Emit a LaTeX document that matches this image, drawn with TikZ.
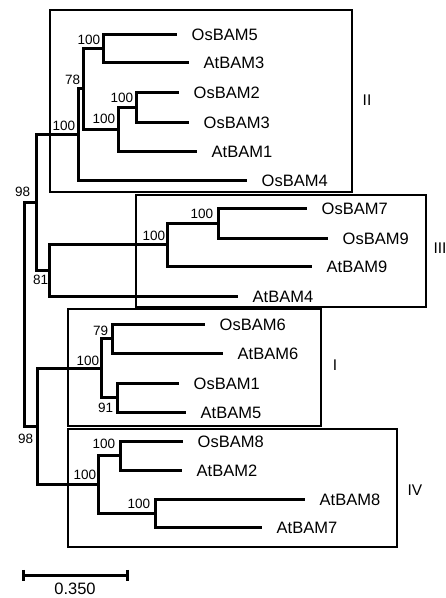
\documentclass[tikz,border=0pt]{standalone}
\usepackage{fontspec}
\setmainfont{Liberation Sans}
\begin{document}
\begin{tikzpicture}[x=1pt,y=-1pt,
  br/.style={draw, line width=3pt, line join=miter},
  cladebox/.style={draw, line width=1.2pt},
  taxon/.style={anchor=west, inner sep=0pt, font=\fontsize{16.5}{18}\selectfont},
  bsa/.style={anchor=south east, inner sep=0pt, font=\fontsize{13.5}{15}\selectfont},
  bsb/.style={anchor=north east, inner sep=0pt, font=\fontsize{13.5}{15}\selectfont},
  grp/.style={inner sep=0pt, font=\fontsize{15.5}{17}\selectfont},
  sclabel/.style={inner sep=0pt, font=\fontsize{16.5}{18}\selectfont}]
\useasboundingbox (0,0) rectangle (446,598);

% clade boxes
\draw[cladebox] (50,10) rectangle (352,192);
\draw[cladebox] (136,195) rectangle (426,307);
\draw[cladebox] (68,309) rectangle (321,426);
\draw[cladebox] (68,429) rectangle (397,547);
\node[grp] (gII) at (367,100) {II};
\node[grp] (gIII) at (440,248) {III};
\node[grp] (gI) at (335,365) {I};
\node[grp] (gIV) at (415,490) {IV};

% tips
\coordinate (tOsBAM5) at (177,34.4);
\coordinate (tAtBAM3) at (189,62.4);
\coordinate (tOsBAM2) at (179,92.4);
\coordinate (tOsBAM3) at (189,122.4);
\coordinate (tAtBAM1) at (197,151.4);
\coordinate (tOsBAM4) at (247,180.4);
\coordinate (tOsBAM7) at (307,208.4);
\coordinate (tOsBAM9) at (328,238.4);
\coordinate (tAtBAM9) at (312,266.4);
\coordinate (tAtBAM4) at (238,296.4);
\coordinate (tOsBAM6) at (205,324.4);
\coordinate (tAtBAM6) at (223,353.4);
\coordinate (tOsBAM1) at (179,383.4);
\coordinate (tAtBAM5) at (186,412.4);
\coordinate (tOsBAM8) at (183,441.4);
\coordinate (tAtBAM2) at (182,470.4);
\coordinate (tAtBAM8) at (305,499.4);
\coordinate (tAtBAM7) at (262,527.4);

% internal nodes
\coordinate (A) at (103.4,48.4);
\coordinate (B) at (136.4,107.4);
\coordinate (C) at (118.4,129.4);
\coordinate (D) at (83.4,88.9);
\coordinate (E) at (78.4,134.65);
\coordinate (F) at (218.4,223.4);
\coordinate (G) at (167.4,244.9);
\coordinate (H) at (49.4,270.65);
\coordinate (K) at (36.4,202.65);
\coordinate (L) at (112.4,338.9);
\coordinate (M) at (117.4,397.9);
\coordinate (N) at (101.4,368.4);
\coordinate (P) at (120.4,455.9);
\coordinate (Q) at (155.4,513.4);
\coordinate (R) at (98.4,484.65);
\coordinate (S) at (37.4,426.4);
\coordinate (root) at (24.4,314.5);

% taxon labels
\foreach \t in {OsBAM5,AtBAM3,OsBAM2,OsBAM3,AtBAM1,OsBAM4,OsBAM7,OsBAM9,AtBAM9,AtBAM4,OsBAM6,AtBAM6,OsBAM1,AtBAM5,OsBAM8,AtBAM2,AtBAM8,AtBAM7}
  \node[taxon] (\t) at ([xshift=14.5pt]t\t) {\t};

% branches
\draw[br] (A) |- (tOsBAM5); \draw[br] (A) |- (tAtBAM3);
\draw[br] (B) |- (tOsBAM2); \draw[br] (B) |- (tOsBAM3);
\draw[br] (C) |- (B); \draw[br] (C) |- (tAtBAM1);
\draw[br] (D) |- (A); \draw[br] (D) |- (C);
\draw[br] (E) |- (D); \draw[br] (E) |- (tOsBAM4);
\draw[br] (F) |- (tOsBAM7); \draw[br] (F) |- (tOsBAM9);
\draw[br] (G) |- (F); \draw[br] (G) |- (tAtBAM9);
\draw[br] (H) |- (G); \draw[br] (H) |- (tAtBAM4);
\draw[br] (K) |- (E); \draw[br] (K) |- (H);
\draw[br] (L) |- (tOsBAM6); \draw[br] (L) |- (tAtBAM6);
\draw[br] (M) |- (tOsBAM1); \draw[br] (M) |- (tAtBAM5);
\draw[br] (N) |- (L); \draw[br] (N) |- (M);
\draw[br] (P) |- (tOsBAM8); \draw[br] (P) |- (tAtBAM2);
\draw[br] (Q) |- (tAtBAM8); \draw[br] (Q) |- (tAtBAM7);
\draw[br] (R) |- (P); \draw[br] (R) |- (Q);
\draw[br] (S) |- (N); \draw[br] (S) |- (R);
\draw[br] (root) |- (K); \draw[br] (root) |- (S);

% bootstrap values
\node[bsa] (bA) at ([shift={(-3,-3.5)}]A) {100};
\node[bsa] (bD) at ([shift={(-3,-4.5)}]D) {78};
\node[bsa] (bB) at ([shift={(-3,-5)}]B) {100};
\node[bsa] (bC) at ([shift={(-3,-6)}]C) {100};
\node[bsa] (bE) at ([shift={(-3,-4)}]E) {100};
\node[bsa] (bK) at ([shift={(-6,-5.5)}]K) {98};
\node[bsa] (bG) at ([shift={(-2,-4.5)}]G) {100};
\node[bsa] (bF) at ([shift={(-5,-5)}]F) {100};
\node[bsb] (bH) at ([shift={(-1,4.5)}]H) {81};
\node[bsa] (bL) at ([shift={(-4,-3.5)}]L) {79};
\node[bsa] (bN) at ([shift={(-2,-3)}]N) {100};
\node[bsb] (bM) at ([shift={(-4,4.5)}]M) {91};
\node[bsb] (bS) at ([shift={(-4,7)}]S) {98};
\node[bsa] (bP) at ([shift={(-5,-7.5)}]P) {100};
\node[bsa] (bR) at ([shift={(-2,-5)}]R) {100};
\node[bsa] (bQ) at ([shift={(-5,-5)}]Q) {100};

% scale bar
\coordinate (s1) at (23.4,575.4);
\coordinate (s2) at (127.4,575.4);
\draw[line width=2.6pt] (s1) -- (s2);
\draw[line width=2.6pt] ([yshift=5.5pt]s1) -- ([yshift=-5.5pt]s1);
\draw[line width=2.6pt] ([yshift=5.5pt]s2) -- ([yshift=-5.5pt]s2);
\node[sclabel] (sc) at (75,589) {0.350};
\end{tikzpicture}
\end{document}
